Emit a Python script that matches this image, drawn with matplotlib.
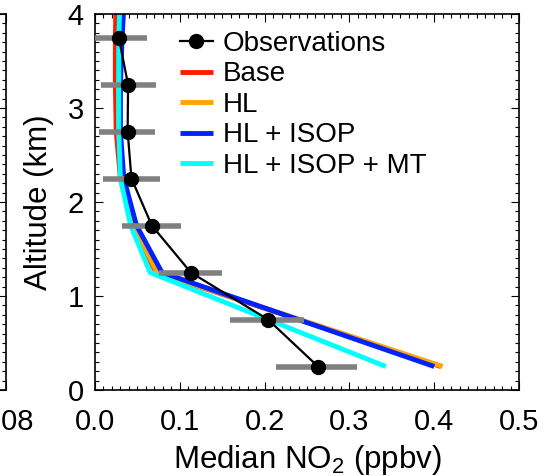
import matplotlib
matplotlib.use("Agg")
import matplotlib.pyplot as plt
from matplotlib.ticker import MultipleLocator

plt.rcParams['font.family'] = ['Liberation Sans', 'DejaVu Sans']
plt.rcParams['mathtext.fontset'] = 'custom'
plt.rcParams['mathtext.rm'] = 'Liberation Sans'
plt.rcParams['mathtext.it'] = 'Liberation Sans'

# Observations (median NO2, ppbv) with spread shown as horizontal bars
obs_alt = [3.75, 3.25, 2.75, 2.25, 1.75, 1.25, 0.75, 0.25]
obs_no2 = [0.028, 0.039, 0.0385, 0.043, 0.067, 0.113, 0.204, 0.263]
obs_lo = [0.0, 0.007, 0.005, 0.009, 0.032, 0.075, 0.159, 0.213]
obs_hi = [0.061, 0.072, 0.071, 0.077, 0.101, 0.150, 0.247, 0.309]

# Model profiles
model_alt = [0.25, 1.25, 1.75, 2.25, 2.75, 3.25, 3.75, 4.25]
base = [0.408, 0.072, 0.044, 0.030, 0.025, 0.024, 0.024, 0.025]
hl = [0.410, 0.073, 0.046, 0.032, 0.028, 0.028, 0.029, 0.031]
hl_isop = [0.400, 0.079, 0.049, 0.034, 0.030, 0.030, 0.032, 0.035]
hl_isop_mt = [0.343, 0.065, 0.042, 0.030, 0.028, 0.028, 0.028, 0.030]

labels = ["Observations", "Base", "HL", "HL + ISOP", "HL + ISOP + MT"]
colors = ["black", "#ff1a00", "#ffa500", "#0022ff", "#00ffff"]

W, H = 545, 476
fig = plt.figure(figsize=(W / 100, H / 100), dpi=100)

x0, x1, y0, y1 = 95, 519, 14, 390
pos = [x0 / W, 1 - y1 / H, (x1 - x0) / W, (y1 - y0) / H]
ax = fig.add_axes(pos)

# neighbouring panel, only its right edge shows
ax0 = fig.add_axes([6 / W - pos[2], pos[1], pos[2], pos[3]])


def style_axes(a):
    a.set_ylim(0, 4)
    a.yaxis.set_major_locator(MultipleLocator(1))
    a.yaxis.set_minor_locator(MultipleLocator(0.1))
    a.tick_params(which='both', direction='in', top=True, right=True, width=0.8)
    a.tick_params(which='major', length=6, labelsize=21, pad=8)
    a.tick_params(axis='x', which='major', pad=13)
    a.tick_params(which='minor', length=3)
    for s in a.spines.values():
        s.set_linewidth(1.2)


style_axes(ax0)
ax0.set_xlim(0, 0.08)
ax0.xaxis.set_major_locator(MultipleLocator(0.02))
ax0.xaxis.set_minor_locator(MultipleLocator(0.002))
ax0.set_xticks([0.08])
ax0.set_xticklabels(["0.08"])
ax0.set_yticklabels([])

style_axes(ax)
ax.set_xlim(0, 0.5)
ax.xaxis.set_major_locator(MultipleLocator(0.1))
ax.xaxis.set_minor_locator(MultipleLocator(0.01))
ax.set_xticks([0, 0.1, 0.2, 0.3, 0.4, 0.5])
ax.set_xticklabels(["0.0", "0.1", "0.2", "0.3", "0.4", "0.5"])

handles = []
for prof, c, lab in zip([base, hl, hl_isop, hl_isop_mt], colors[1:], labels[1:]):
    h, = ax.plot(prof, model_alt, color=c, lw=3.5, solid_capstyle='butt', zorder=2, label=lab)
    handles.append(h)

ax.hlines(obs_alt, obs_lo, obs_hi, color='#808080', lw=4, zorder=3)
h_obs, = ax.plot(obs_no2, obs_alt, color='black', lw=1.6, marker='o', ms=10,
                 zorder=4, label=labels[0])

ax.legend([h_obs] + handles, labels, loc='upper left', bbox_to_anchor=(0.2, 0.955),
          frameon=False, fontsize=20, handlelength=1.2, handletextpad=0.35,
          labelspacing=0.16, borderpad=0, borderaxespad=0)

ax.set_xlabel("Median NO$_2$ (ppbv)", fontsize=22.5, labelpad=5)
ax.set_ylabel("Altitude (km)", fontsize=22.5, labelpad=10)

fig.savefig("out.png", dpi=100)
